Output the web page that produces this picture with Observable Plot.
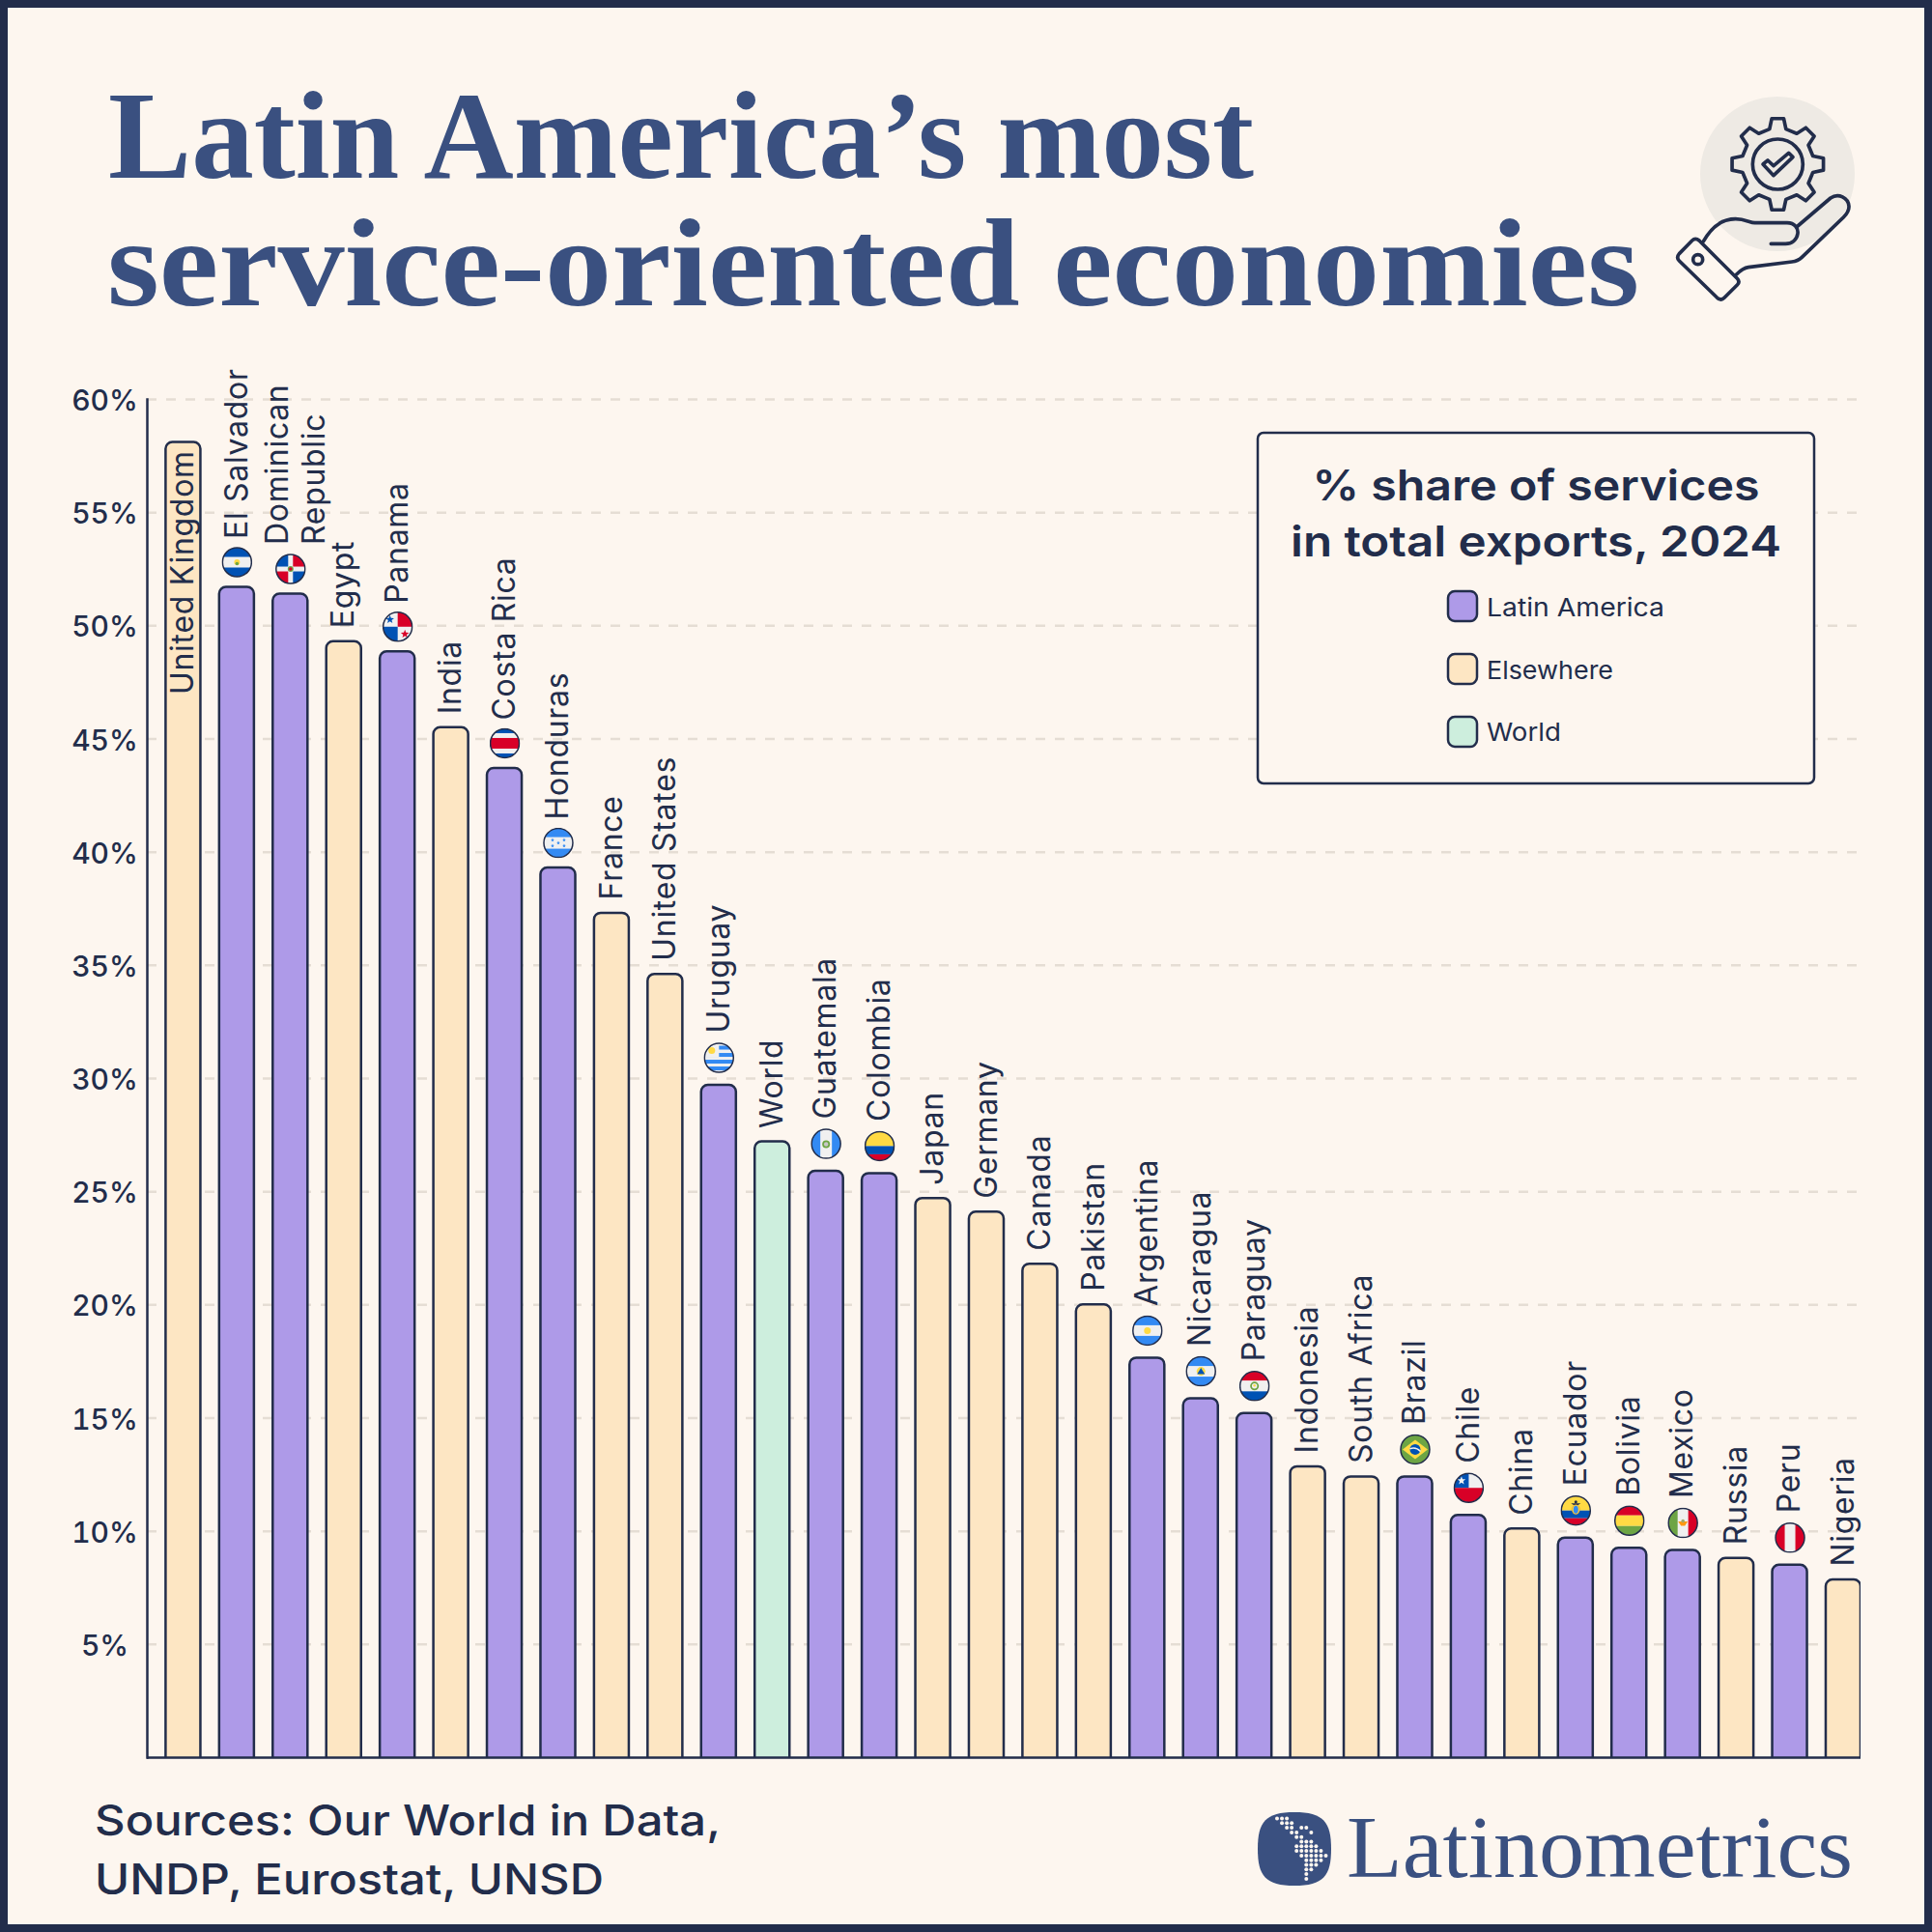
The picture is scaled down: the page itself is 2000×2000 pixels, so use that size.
<!DOCTYPE html>
<html><head><meta charset="utf-8">
<script src="https://cdn.jsdelivr.net/npm/d3@7"></script>
<script src="https://cdn.jsdelivr.net/npm/@observablehq/plot@0.6"></script>
<style>
html,body{margin:0;padding:0;background:#fdf6ef;width:2000px;height:2000px;overflow:hidden}
#page{position:relative;width:2000px;height:2000px;background:#fdf6ef}
#frame{position:absolute;left:0;top:0;width:1984px;height:1984px;border:8px solid #222d4b;pointer-events:none}
#chart,#over{position:absolute;left:0;top:0}
#chart svg{background:transparent;overflow:visible;display:block}
.barlabel text{letter-spacing:0.7px}
</style></head><body>
<div id="page"><div id="chart"></div><svg id="over" width="2000" height="2000" viewBox="0 0 2000 2000"></svg><div id="frame"></div></div>
<script>
const countries = ["United Kingdom","El Salvador","Dominican\nRepublic","Egypt","Panama","India","Costa Rica","Honduras","France","United States","Uruguay","World","Guatemala","Colombia","Japan","Germany","Canada","Pakistan","Argentina","Nicaragua","Paraguay","Indonesia","South Africa","Brazil","Chile","China","Ecuador","Bolivia","Mexico","Russia","Peru","Nigeria"];
const values = [58.1,51.7,51.4,49.3,48.85,45.5,43.7,39.3,37.3,34.6,29.7,27.2,25.9,25.8,24.7,24.1,21.8,20.0,17.65,15.85,15.2,12.85,12.4,12.4,10.7,10.1,9.7,9.25,9.15,8.8,8.5,7.85];
const regions = ["Elsewhere","Latin America","Latin America","Elsewhere","Latin America","Elsewhere","Latin America","Latin America","Elsewhere","Elsewhere","Latin America","World","Latin America","Latin America","Elsewhere","Elsewhere","Elsewhere","Elsewhere","Latin America","Latin America","Latin America","Elsewhere","Elsewhere","Latin America","Latin America","Elsewhere","Latin America","Latin America","Latin America","Elsewhere","Latin America","Elsewhere"];
const legendNames = ["Latin America","Elsewhere","World"];
const legendColors = ["#ae9ae8","#fde6c3","#cdeedd"];
const tickValues = [5,10,15,20,25,30,35,40,45,50,55,60];

const INK="#222d4b", NAVY="#3a5080", BG="#fdf6ef";
const B="#0052b4",L="#338af3",R="#d80027",W="#f0f0f0",Y="#ffda44",G="#6da544";
const h=(y,hh,c)=>`<rect x="0" y="${y}" width="64" height="${hh}" fill="${c}"/>`;
const v=(x,w,c)=>`<rect x="${x}" y="0" width="${w}" height="64" fill="${c}"/>`;
const rc=(x,y,w,hh,c)=>`<rect x="${x}" y="${y}" width="${w}" height="${hh}" fill="${c}"/>`;
const ci=(x,y,r,c)=>`<circle cx="${x}" cy="${y}" r="${r}" fill="${c}"/>`;
const star=(x,y,r,c)=>{const p=[];for(let i=0;i<10;i++){const a=-Math.PI/2+i*Math.PI/5,q=i%2?r*0.42:r;p.push((x+q*Math.cos(a)).toFixed(1)+","+(y+q*Math.sin(a)).toFixed(1));}return `<polygon points="${p.join(" ")}" fill="${c}"/>`;};
const flagArt={
 "El Salvador":h(0,64,W)+h(0,21,B)+h(43,21,B)+ci(32,32,6,Y)+ci(32,35,3.5,G),
 "Dominican\nRepublic":h(0,64,W)+rc(0,0,27,27,B)+rc(37,0,27,27,R)+rc(0,37,27,27,R)+rc(37,37,27,27,B)+ci(32,32,6,G)+ci(32,32,3.5,R),
 "Panama":h(0,64,W)+rc(32,0,32,32,R)+rc(0,32,32,32,B)+star(16,17,9,B)+star(47,47,9,R),
 "Costa Rica":h(0,64,B)+h(11,42,W)+h(21,22,R),
 "Honduras":h(0,64,W)+h(0,20,L)+h(44,20,L)+star(32,32,4,L)+star(20,26,4,L)+star(44,26,4,L)+star(20,38,4,L)+star(44,38,4,L),
 "Uruguay":h(0,64,W)+h(7,8,L)+h(22,8,L)+h(36,8,L)+h(50,8,L)+rc(0,0,32,30,W)+ci(17,17,7,Y),
 "Guatemala":h(0,64,W)+v(0,20,L)+v(44,20,L)+ci(32,33,8,G)+ci(32,33,4.5,"#c7c7c7"),
 "Colombia":h(0,32,Y)+h(32,17,B)+h(49,15,R),
 "Argentina":h(0,64,W)+h(0,21,L)+h(43,21,L)+ci(32,32,7,Y),
 "Nicaragua":h(0,64,W)+h(0,21,L)+h(43,21,L)+ci(32,32,9,Y)+`<polygon points="32,25 40,38 24,38" fill="${B}"/>`,
 "Paraguay":h(0,21,R)+h(21,22,W)+h(43,21,B)+ci(32,32,9,G)+ci(32,32,5.5,W)+ci(32,31,2.5,Y),
 "Brazil":h(0,64,G)+`<polygon points="32,12 58,32 32,52 6,32" fill="${Y}"/>`+ci(32,32,11,B)+`<path d="M21,31 Q33,26 43,36" stroke="${W}" stroke-width="3" fill="none"/>`,
 "Chile":h(0,64,W)+rc(0,0,32,32,B)+h(32,32,R)+star(17,17,9,W),
 "Ecuador":h(0,32,Y)+h(32,16,B)+h(48,16,R)+`<path d="M22,17 H42 L36,21 H28Z" fill="${INK}"/>`+ci(32,14,3,INK)+`<ellipse cx="32" cy="30" rx="8" ry="10" fill="${Y}" stroke="#d08a2a" stroke-width="1"/>`+`<ellipse cx="32" cy="30" rx="5" ry="8" fill="${L}"/>`,
 "Bolivia":h(0,21,R)+h(21,22,Y)+h(43,21,G),
 "Mexico":h(0,64,W)+v(0,21,G)+v(43,21,R)+`<path d="M22,29 H42 L36,38 H28Z" fill="#ff9811"/>`+ci(32,28,3.5,"#a2a86a"),
 "Peru":h(0,64,W)+v(0,21,R)+v(43,21,R)
};
let fid=0;
const flagSrc=name=>{const id="c"+(fid++);
 const s=`<svg xmlns="http://www.w3.org/2000/svg" viewBox="0 0 64 64"><defs><clipPath id="${id}"><circle cx="32" cy="32" r="30"/></clipPath></defs><g clip-path="url(#${id})">${flagArt[name]}</g><circle cx="32" cy="32" r="30" fill="none" stroke="${INK}" stroke-width="3"/></svg>`;
 return "data:image/svg+xml;charset=utf-8,"+encodeURIComponent(s);};

const rows=countries.map((c,i)=>({country:c,value:values[i],region:regions[i]}));
const hasFlag=d=>d.country in flagArt;
const isTall=d=>d.value>35;
const isTwoLine=d=>d.country.includes("\n");
const labelFont="Inter, sans-serif";
const labelOpts={x:"country",y:"value",text:"country",rotate:-90,textAnchor:"start",lineAnchor:"middle",fontSize:32,fontFamily:labelFont,fill:INK,className:"barlabel"};
const flagOpts={x:"country",y:"value",src:d=>flagSrc(d.country),width:32,height:32};

const chart=Plot.plot({
 width:2000,height:2000,marginLeft:152,marginRight:74,marginTop:413,marginBottom:181,
 style:{background:"transparent",overflow:"visible"},
 x:{domain:countries,paddingInner:0.35,paddingOuter:0.175,align:1,round:false,axis:null},
 y:{domain:[0,60],label:null},
 color:{domain:legendNames,range:legendColors},
 marks:[
  Plot.gridY(tickValues,{stroke:"#e5ddd4",strokeOpacity:1,strokeWidth:2.5,strokeDasharray:"10,10"}),
  Plot.axisY({ticks:tickValues,tickSize:0,tickPadding:44,textAnchor:"middle",tickFormat:d=>d+"%",label:null,fontSize:30,fontWeight:500,fontFamily:labelFont,fill:INK,dy:2}),
  Plot.barY(rows,{x:"country",y1:()=>-1,y2:"value",fill:"region",stroke:INK,strokeWidth:2.5,rx:7,clip:"frame"}),
  Plot.ruleY([0],{stroke:INK,strokeWidth:2.5}),
  Plot.frame({anchor:"left",stroke:INK,strokeWidth:2.5}),
  Plot.image(rows.filter(d=>hasFlag(d)&&isTall(d)),{...flagOpts,dy:-26}),
  Plot.image(rows.filter(d=>hasFlag(d)&&!isTall(d)),{...flagOpts,dy:-28.5}),
  Plot.text(rows.filter(d=>hasFlag(d)&&!isTwoLine(d)&&isTall(d)),{...labelOpts,dy:-50}),
  Plot.text(rows.filter(d=>hasFlag(d)&&!isTwoLine(d)&&!isTall(d)),{...labelOpts,dy:-54}),
  Plot.text(rows.filter(isTwoLine),{...labelOpts,dy:-51,dx:4,lineHeight:1.19}),
  Plot.text(rows.filter(d=>!hasFlag(d)&&d.country!=="United Kingdom"),{...labelOpts,dy:-14}),
  Plot.text(rows.filter(d=>d.country==="United Kingdom"),{...labelOpts,dy:261})
 ]
});
document.getElementById("chart").appendChild(chart);

/* overlay: title, legend, footer, icon, logo */
const serif="'Liberation Serif', serif";
const T=(x,y,s,o)=>`<text x="${x}" y="${y}" fill="${o.fill||INK}" font-family="${o.ff||labelFont}" font-size="${o.fs}" font-weight="${o.fw||400}" ${o.anchor?`text-anchor="${o.anchor}"`:""} ${o.len?`textLength="${o.len}" lengthAdjust="spacingAndGlyphs"`:""}>${s}</text>`;
let o="";
o+=T(112,184,"Latin America’s most",{ff:serif,fs:130,fw:700,fill:NAVY,len:1186});
o+=T(111,316,"service-oriented economies",{ff:serif,fs:130,fw:700,fill:NAVY,len:1586});
/* legend */
o+=`<rect x="1302" y="448" width="576" height="363" rx="6" fill="${BG}" stroke="${INK}" stroke-width="2.5"/>`;
o+=T(1590,518,"% share of services",{fs:44,fw:600,anchor:"middle",len:463});
o+=T(1590,576,"in total exports, 2024",{fs:44,fw:600,anchor:"middle",len:508});
const ly=[612,677,742], lw=[184,131,77], lb=[638,703,767];
legendNames.forEach((n,i)=>{
 o+=`<rect x="1499" y="${ly[i]}" width="30" height="31" rx="7" fill="${legendColors[i]}" stroke="${INK}" stroke-width="2.5"/>`;
 o+=T(1539,lb[i],n,{fs:26,len:lw[i]});
});
/* footer */
o+=T(98,1900,"Sources: Our World in Data,",{fs:44,fw:500,len:648});
o+=T(98,1961,"UNDP, Eurostat, UNSD",{fs:44,fw:500,len:527});
/* logo */
o+=`<path transform="translate(1302,1876)" d="M38,0 C68,0 76,10 76,38 C76,66 68,76 38,76 C8,76 0,66 0,38 C0,10 8,0 38,0Z" fill="${NAVY}"/>`;
const dots=[[0,1,2],[1,2,3],[2,3,5,6],[3,4,7],[4,5],[5,6,7],[4,5,6,7,8],[4,5,6,7,8,9],[5,6,7,8,9,10],[6,7,8,9],[6,7,8],[6,7],[6],[6]];
dots.forEach((r,j)=>r.forEach(c=>{o+=`<circle cx="${1322+c*5.05}" cy="${1882.5+j*4.8}" r="2" fill="${BG}"/>`;}));
o+=T(1394,1943,"Latinometrics",{ff:serif,fs:92,fill:NAVY,len:524});
/* icon */
const gear=[];const N=8;for(let i=0;i<N;i++){const a=-Math.PI/2+i*2*Math.PI/N,d=0.18,e=0.13,ro=143,ri=112;
 const P=(r,t)=>[(421+r*Math.cos(t)).toFixed(1),(270+r*Math.sin(t)).toFixed(1)].join(",");
 gear.push(P(ri,a-d-0.05),P(ro,a-e),P(ro,a+e),P(ri,a+d+0.05));}
o+=`<circle cx="1840" cy="180" r="80" fill="#eeeae4"/>`;
o+=`<g transform="translate(1700,80) scale(0.3333)" fill="none" stroke="${INK}" stroke-width="11" stroke-linecap="round" stroke-linejoin="round">
<polygon points="${gear.join(" ")}"/><circle cx="421" cy="270" r="78"/>
<polygon points="375,270 390,258 408,275 455,235 468,248 408,305"/>
<path d="M190,510 C215,465 250,440 290,440 C320,440 335,452 350,452 L450,452 C475,452 485,470 483,485 C480,505 465,517 445,517 L400,517"/>
<path d="M483,462 L585,375 C610,358 640,375 642,400 C643,415 635,425 625,435 L495,560 C485,570 475,572 465,573 L330,590 C315,592 305,600 293,612"/>
<path d="M155,507 Q165,497 177,507 L295,625 Q305,635 295,645 L255,685 Q245,695 233,685 L115,570 Q105,560 115,548Z"/>
<circle cx="173" cy="566" r="15"/></g>`;
document.getElementById("over").innerHTML=o;
</script></body></html>
